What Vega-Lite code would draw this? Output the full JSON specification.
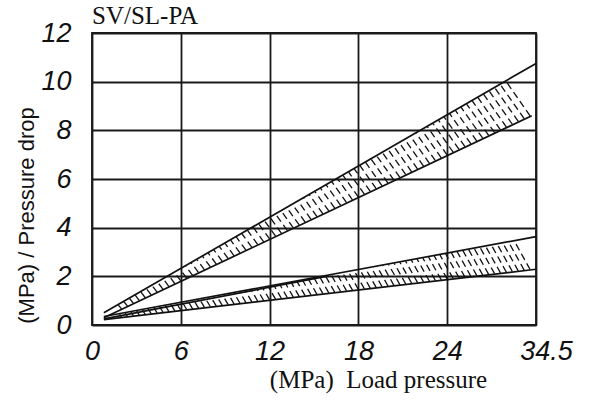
{
  "$schema": "https://vega.github.io/schema/vega-lite/v6.json",
  "width": 444,
  "height": 292,
  "autosize": {"type": "none"},
  "padding": {"left": 92, "top": 33, "right": 54, "bottom": 79},
  "background": "white",
  "title": {"text": "SV/SL-PA", "anchor": "start", "frame": "group", "font": "Liberation Serif", "fontSize": 25, "fontWeight": "normal", "color": "#111", "offset": -10},
  "datasets": {
    "lines": [
      {"series": "A_upper", "x": 0.8, "y": 0.5}, {"series": "A_upper", "x": 34.5, "y": 10.75},
      {"series": "A_lower", "x": 0.8, "y": 0.3}, {"series": "A_lower", "x": 34.0, "y": 8.6},
      {"series": "B_upper", "x": 0.8, "y": 0.35}, {"series": "B_upper", "x": 34.5, "y": 3.63},
      {"series": "B_inner", "x": 0.8, "y": 0.25}, {"series": "B_inner", "x": 16, "y": 2.02},
      {"series": "B_lower", "x": 0.8, "y": 0.22}, {"series": "B_lower", "x": 34.5, "y": 2.29}
    ],
    "hatch": [
      {"band": "A", "x": 2.0, "y": 0.66, "x2": 1.78, "y2": 0.82},
      {"band": "A", "x": 2.4, "y": 0.775, "x2": 2.16, "y2": 0.955},
      {"band": "A", "x": 2.8, "y": 0.89, "x2": 2.54, "y2": 1.09},
      {"band": "A", "x": 3.2, "y": 1.005, "x2": 2.92, "y2": 1.225},
      {"band": "A", "x": 3.6, "y": 1.12, "x2": 3.30, "y2": 1.36},
      {"band": "A", "x": 4.0, "y": 1.235, "x2": 3.68, "y2": 1.49},
      {"band": "A", "x": 4.4, "y": 1.35, "x2": 4.06, "y2": 1.62},
      {"band": "A", "x": 4.8, "y": 1.465, "x2": 4.44, "y2": 1.755},
      {"band": "A", "x": 5.2, "y": 1.58, "x2": 4.82, "y2": 1.89},
      {"band": "A", "x": 5.6, "y": 1.695, "x2": 5.20, "y2": 2.025},
      {"band": "A", "x": 6.0, "y": 1.81, "x2": 5.58, "y2": 2.16},
      {"band": "A", "x": 6.4, "y": 1.925, "x2": 5.955, "y2": 2.29},
      {"band": "A", "x": 6.8, "y": 2.04, "x2": 6.33, "y2": 2.42},
      {"band": "A", "x": 7.2, "y": 2.155, "x2": 6.71, "y2": 2.555},
      {"band": "A", "x": 7.6, "y": 2.27, "x2": 7.09, "y2": 2.69},
      {"band": "A", "x": 8.0, "y": 2.385, "x2": 7.47, "y2": 2.825},
      {"band": "A", "x": 8.4, "y": 2.50, "x2": 7.85, "y2": 2.96},
      {"band": "A", "x": 8.8, "y": 2.615, "x2": 8.23, "y2": 3.09},
      {"band": "A", "x": 9.2, "y": 2.73, "x2": 8.61, "y2": 3.22},
      {"band": "A", "x": 9.6, "y": 2.845, "x2": 8.99, "y2": 3.355},
      {"band": "A", "x": 10.0, "y": 2.96, "x2": 9.37, "y2": 3.49},
      {"band": "A", "x": 10.4, "y": 3.075, "x2": 9.75, "y2": 3.62},
      {"band": "A", "x": 10.8, "y": 3.19, "x2": 10.13, "y2": 3.75},
      {"band": "A", "x": 11.2, "y": 3.305, "x2": 10.51, "y2": 3.885},
      {"band": "A", "x": 11.6, "y": 3.42, "x2": 10.89, "y2": 4.02},
      {"band": "A", "x": 12.0, "y": 3.535, "x2": 11.27, "y2": 4.155},
      {"band": "A", "x": 12.4, "y": 3.65, "x2": 11.65, "y2": 4.29},
      {"band": "A", "x": 12.8, "y": 3.765, "x2": 12.03, "y2": 4.42},
      {"band": "A", "x": 13.2, "y": 3.88, "x2": 12.41, "y2": 4.55},
      {"band": "A", "x": 13.6, "y": 3.995, "x2": 12.79, "y2": 4.685},
      {"band": "A", "x": 14.0, "y": 4.11, "x2": 13.17, "y2": 4.82},
      {"band": "A", "x": 14.4, "y": 4.225, "x2": 13.55, "y2": 4.955},
      {"band": "A", "x": 14.8, "y": 4.34, "x2": 13.93, "y2": 5.09},
      {"band": "A", "x": 15.2, "y": 4.455, "x2": 14.31, "y2": 5.22},
      {"band": "A", "x": 15.6, "y": 4.57, "x2": 14.69, "y2": 5.35},
      {"band": "A", "x": 16.0, "y": 4.685, "x2": 15.065, "y2": 5.485},
      {"band": "A", "x": 16.4, "y": 4.80, "x2": 15.44, "y2": 5.62},
      {"band": "A", "x": 16.8, "y": 4.915, "x2": 15.82, "y2": 5.755},
      {"band": "A", "x": 17.2, "y": 5.03, "x2": 16.20, "y2": 5.89},
      {"band": "A", "x": 17.6, "y": 5.145, "x2": 16.58, "y2": 6.02},
      {"band": "A", "x": 18.0, "y": 5.26, "x2": 16.96, "y2": 6.15},
      {"band": "A", "x": 18.4, "y": 5.375, "x2": 17.34, "y2": 6.285},
      {"band": "A", "x": 18.8, "y": 5.49, "x2": 17.72, "y2": 6.42},
      {"band": "A", "x": 19.2, "y": 5.605, "x2": 18.10, "y2": 6.555},
      {"band": "A", "x": 19.6, "y": 5.72, "x2": 18.48, "y2": 6.69},
      {"band": "A", "x": 20.0, "y": 5.835, "x2": 18.86, "y2": 6.82},
      {"band": "A", "x": 20.4, "y": 5.95, "x2": 19.24, "y2": 6.95},
      {"band": "A", "x": 20.8, "y": 6.065, "x2": 19.62, "y2": 7.085},
      {"band": "A", "x": 21.2, "y": 6.18, "x2": 20.00, "y2": 7.22},
      {"band": "A", "x": 21.6, "y": 6.295, "x2": 20.38, "y2": 7.355},
      {"band": "A", "x": 22.0, "y": 6.41, "x2": 20.76, "y2": 7.49},
      {"band": "A", "x": 22.4, "y": 6.525, "x2": 21.14, "y2": 7.62},
      {"band": "A", "x": 22.8, "y": 6.64, "x2": 21.52, "y2": 7.75},
      {"band": "A", "x": 23.2, "y": 6.755, "x2": 21.90, "y2": 7.885},
      {"band": "A", "x": 23.6, "y": 6.87, "x2": 22.28, "y2": 8.02},
      {"band": "A", "x": 24.0, "y": 6.985, "x2": 22.66, "y2": 8.15},
      {"band": "A", "x": 24.7, "y": 7.10, "x2": 23.04, "y2": 8.28},
      {"band": "A", "x": 25.4, "y": 7.215, "x2": 23.41, "y2": 8.415},
      {"band": "A", "x": 26.1, "y": 7.33, "x2": 23.79, "y2": 8.55},
      {"band": "A", "x": 26.8, "y": 7.445, "x2": 24.30, "y2": 8.685},
      {"band": "A", "x": 27.5, "y": 7.56, "x2": 24.97, "y2": 8.82},
      {"band": "A", "x": 28.2, "y": 7.675, "x2": 25.63, "y2": 8.95},
      {"band": "A", "x": 28.9, "y": 7.79, "x2": 26.30, "y2": 9.08},
      {"band": "A", "x": 29.6, "y": 7.905, "x2": 26.96, "y2": 9.215},
      {"band": "A", "x": 30.3, "y": 8.02, "x2": 27.63, "y2": 9.35},
      {"band": "A", "x": 31.0, "y": 8.135, "x2": 28.29, "y2": 9.485},
      {"band": "A", "x": 31.7, "y": 8.25, "x2": 28.95, "y2": 9.62},
      {"band": "A", "x": 32.4, "y": 8.365, "x2": 29.62, "y2": 9.75},
      {"band": "A", "x": 33.1, "y": 8.48, "x2": 30.28, "y2": 9.88},
      {"band": "A", "x": 33.8, "y": 8.59, "x2": 30.95, "y2": 10.02},
      {"band": "B", "x": 2.0, "y": 0.325, "x2": 1.86, "y2": 0.449},
      {"band": "B", "x": 2.4, "y": 0.354, "x2": 2.245, "y2": 0.493},
      {"band": "B", "x": 2.8, "y": 0.382, "x2": 2.63, "y2": 0.536},
      {"band": "B", "x": 3.2, "y": 0.41, "x2": 3.015, "y2": 0.579},
      {"band": "B", "x": 3.6, "y": 0.439, "x2": 3.40, "y2": 0.622},
      {"band": "B", "x": 4.0, "y": 0.467, "x2": 3.79, "y2": 0.666},
      {"band": "B", "x": 4.4, "y": 0.495, "x2": 4.18, "y2": 0.709},
      {"band": "B", "x": 4.8, "y": 0.524, "x2": 4.565, "y2": 0.753},
      {"band": "B", "x": 5.2, "y": 0.552, "x2": 4.95, "y2": 0.796},
      {"band": "B", "x": 5.6, "y": 0.58, "x2": 5.335, "y2": 0.84},
      {"band": "B", "x": 6.0, "y": 0.609, "x2": 5.72, "y2": 0.883},
      {"band": "B", "x": 6.4, "y": 0.637, "x2": 6.11, "y2": 0.927},
      {"band": "B", "x": 6.8, "y": 0.665, "x2": 6.50, "y2": 0.970},
      {"band": "B", "x": 7.2, "y": 0.694, "x2": 6.885, "y2": 1.014},
      {"band": "B", "x": 7.6, "y": 0.722, "x2": 7.27, "y2": 1.057},
      {"band": "B", "x": 8.0, "y": 0.751, "x2": 7.655, "y2": 1.101},
      {"band": "B", "x": 8.4, "y": 0.779, "x2": 8.04, "y2": 1.144},
      {"band": "B", "x": 8.8, "y": 0.808, "x2": 8.43, "y2": 1.187},
      {"band": "B", "x": 9.2, "y": 0.836, "x2": 8.82, "y2": 1.230},
      {"band": "B", "x": 9.6, "y": 0.864, "x2": 9.205, "y2": 1.274},
      {"band": "B", "x": 10.0, "y": 0.892, "x2": 9.59, "y2": 1.317},
      {"band": "B", "x": 10.4, "y": 0.921, "x2": 9.98, "y2": 1.361},
      {"band": "B", "x": 10.8, "y": 0.949, "x2": 10.37, "y2": 1.404},
      {"band": "B", "x": 11.2, "y": 0.978, "x2": 10.755, "y2": 1.448},
      {"band": "B", "x": 11.6, "y": 1.006, "x2": 11.14, "y2": 1.491},
      {"band": "B", "x": 12.0, "y": 1.034, "x2": 11.525, "y2": 1.535},
      {"band": "B", "x": 12.4, "y": 1.062, "x2": 11.91, "y2": 1.578},
      {"band": "B", "x": 12.8, "y": 1.091, "x2": 12.30, "y2": 1.622},
      {"band": "B", "x": 13.2, "y": 1.119, "x2": 12.69, "y2": 1.665},
      {"band": "B", "x": 13.6, "y": 1.148, "x2": 13.075, "y2": 1.709},
      {"band": "B", "x": 14.0, "y": 1.176, "x2": 13.46, "y2": 1.752},
      {"band": "B", "x": 14.4, "y": 1.205, "x2": 13.845, "y2": 1.795},
      {"band": "B", "x": 14.8, "y": 1.233, "x2": 14.23, "y2": 1.838},
      {"band": "B", "x": 15.2, "y": 1.261, "x2": 14.62, "y2": 1.882},
      {"band": "B", "x": 15.6, "y": 1.289, "x2": 15.01, "y2": 1.925},
      {"band": "B", "x": 16.0, "y": 1.318, "x2": 15.395, "y2": 1.969},
      {"band": "B", "x": 16.4, "y": 1.346, "x2": 15.78, "y2": 2.012},
      {"band": "B", "x": 16.8, "y": 1.375, "x2": 16.165, "y2": 2.056},
      {"band": "B", "x": 17.2, "y": 1.403, "x2": 16.55, "y2": 2.099},
      {"band": "B", "x": 17.6, "y": 1.432, "x2": 16.94, "y2": 2.143},
      {"band": "B", "x": 18.0, "y": 1.460, "x2": 17.33, "y2": 2.186},
      {"band": "B", "x": 18.4, "y": 1.488, "x2": 17.715, "y2": 2.23},
      {"band": "B", "x": 18.8, "y": 1.516, "x2": 18.10, "y2": 2.273},
      {"band": "B", "x": 19.2, "y": 1.545, "x2": 18.485, "y2": 2.317},
      {"band": "B", "x": 19.6, "y": 1.573, "x2": 18.87, "y2": 2.360},
      {"band": "B", "x": 20.0, "y": 1.602, "x2": 19.26, "y2": 2.404},
      {"band": "B", "x": 20.4, "y": 1.630, "x2": 19.65, "y2": 2.447},
      {"band": "B", "x": 20.8, "y": 1.658, "x2": 20.035, "y2": 2.49},
      {"band": "B", "x": 21.2, "y": 1.686, "x2": 20.42, "y2": 2.533},
      {"band": "B", "x": 21.6, "y": 1.715, "x2": 20.805, "y2": 2.577},
      {"band": "B", "x": 22.0, "y": 1.743, "x2": 21.19, "y2": 2.620},
      {"band": "B", "x": 22.4, "y": 1.772, "x2": 21.58, "y2": 2.664},
      {"band": "B", "x": 22.8, "y": 1.800, "x2": 21.97, "y2": 2.707},
      {"band": "B", "x": 23.2, "y": 1.829, "x2": 22.355, "y2": 2.751},
      {"band": "B", "x": 23.6, "y": 1.857, "x2": 22.74, "y2": 2.794},
      {"band": "B", "x": 24.0, "y": 1.885, "x2": 23.125, "y2": 2.838},
      {"band": "B", "x": 24.7, "y": 1.913, "x2": 23.51, "y2": 2.881},
      {"band": "B", "x": 25.4, "y": 1.942, "x2": 23.90, "y2": 2.925},
      {"band": "B", "x": 26.1, "y": 1.970, "x2": 24.50, "y2": 2.968},
      {"band": "B", "x": 26.8, "y": 1.999, "x2": 25.18, "y2": 3.012},
      {"band": "B", "x": 27.5, "y": 2.027, "x2": 25.86, "y2": 3.055},
      {"band": "B", "x": 28.2, "y": 2.055, "x2": 26.54, "y2": 3.098},
      {"band": "B", "x": 28.9, "y": 2.083, "x2": 27.21, "y2": 3.141},
      {"band": "B", "x": 29.6, "y": 2.112, "x2": 27.89, "y2": 3.185},
      {"band": "B", "x": 30.3, "y": 2.140, "x2": 28.56, "y2": 3.228},
      {"band": "B", "x": 31.0, "y": 2.169, "x2": 29.25, "y2": 3.272},
      {"band": "B", "x": 31.7, "y": 2.197, "x2": 29.92, "y2": 3.315},
      {"band": "B", "x": 32.4, "y": 2.226, "x2": 30.60, "y2": 3.359},
      {"band": "B", "x": 33.1, "y": 2.254, "x2": 31.27, "y2": 3.402},
      {"band": "B", "x": 33.8, "y": 2.282, "x2": 31.95, "y2": 3.445}
    ]
  },
  "layer": [
    {
      "data": {"name": "lines"},
      "mark": {"type": "line", "color": "#111", "strokeWidth": 1.7, "clip": false},
      "encoding": {
        "x": {
          "field": "x", "type": "quantitative",
          "scale": {"domain": [0, 24, 34.5], "range": [0, 355.2, 444], "nice": false},
          "axis": {
            "values": [0, 6, 12, 18, 24, 34.5],
            "labelExpr": "datum.value === 34.5 ? '34.5' : format(datum.value, 'd')",
            "title": "(MPa)\u00a0 Load pressure",
            "titleFont": "Liberation Serif", "titleFontSize": 25, "titleFontWeight": "normal", "titleColor": "#111",
            "titleX": 286, "titleY": 62, "titleAlign": "center", "titleBaseline": "alphabetic",
            "labelFont": "Liberation Sans", "labelFontSize": 27, "labelFontStyle": "italic", "labelColor": "#111",
            "labelPadding": 13, "labelFlush": false, "labelOverlap": false, "labelBound": false,
            "labelOffset": {"condition": {"test": "datum.value === 34.5", "value": 10}, "value": 0}
          }
        },
        "y": {
          "field": "y", "type": "quantitative",
          "scale": {"domain": [0, 12], "nice": false},
          "axis": {
            "values": [0, 2, 4, 6, 8, 10, 12],
            "title": "(MPa) / Pressure drop",
            "titleFont": "Liberation Sans", "titleFontSize": 22, "titleFontWeight": "normal", "titleColor": "#111",
            "titleX": -66, "titleY": 182, "titleAlign": "center", "titleBaseline": "middle", "titleAngle": 270,
            "labelFont": "Liberation Sans", "labelFontSize": 27, "labelFontStyle": "italic", "labelColor": "#111",
            "labelPadding": 21, "labelOverlap": false, "labelFlush": false, "labelBound": false
          }
        },
        "detail": {"field": "series", "type": "nominal"}
      }
    },
    {
      "data": {"name": "hatch"},
      "mark": {"type": "rule", "color": "#111", "strokeWidth": 1.3, "strokeDash": [7, 4]},
      "encoding": {
        "x": {"field": "x", "type": "quantitative"},
        "y": {"field": "y", "type": "quantitative"},
        "x2": {"field": "x2"},
        "y2": {"field": "y2"}
      }
    }
  ],
  "config": {
    "view": {"stroke": "#1a1a1a", "strokeWidth": 1.8},
    "axis": {"grid": true, "gridColor": "#1a1a1a", "gridWidth": 1.8, "gridOpacity": 1, "domain": false, "ticks": false}
  }
}
